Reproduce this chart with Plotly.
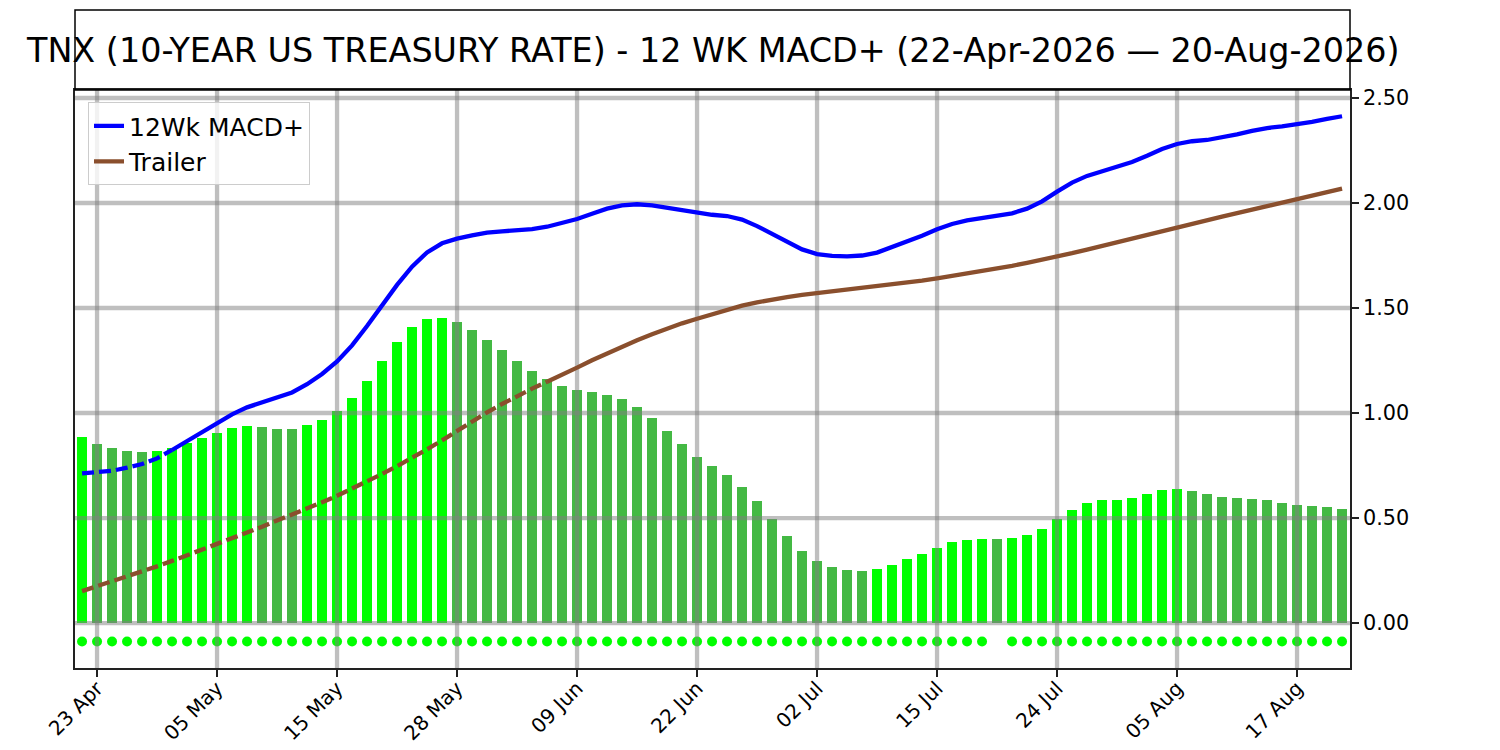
import plotly.graph_objects as go

# ---------------- data ----------------
tick_positions = [1, 9, 17, 25, 33, 41, 49, 57, 65, 73, 81]
tick_labels = ["23 Apr", "05 May", "15 May", "28 May", "09 Jun", "22 Jun",
               "02 Jul", "15 Jul", "24 Jul", "05 Aug", "17 Aug"]

hist = [0.884, 0.852, 0.833, 0.819, 0.814, 0.819, 0.832, 0.856, 0.881, 0.905,
        0.929, 0.938, 0.933, 0.925, 0.923, 0.943, 0.967, 1.008, 1.071, 1.152,
        1.248, 1.338, 1.410, 1.448, 1.453, 1.433, 1.395, 1.348, 1.300, 1.248,
        1.200, 1.162, 1.129, 1.110, 1.100, 1.086, 1.067, 1.029, 0.976, 0.914,
        0.852, 0.790, 0.748, 0.705, 0.648, 0.581, 0.495, 0.414, 0.343, 0.295,
        0.267, 0.252, 0.248, 0.257, 0.276, 0.305, 0.329, 0.357, 0.386, 0.395,
        0.400, 0.398, 0.405, 0.419, 0.448, 0.495, 0.538, 0.571, 0.586, 0.587,
        0.595, 0.614, 0.633, 0.638, 0.629, 0.614, 0.600, 0.595, 0.590, 0.586,
        0.571, 0.562, 0.557, 0.552, 0.543]

macd = [0.713, 0.718, 0.725, 0.740, 0.757, 0.784, 0.824, 0.867, 0.910, 0.954,
        0.994, 1.027, 1.051, 1.071, 1.098, 1.137, 1.186, 1.246, 1.322, 1.414,
        1.514, 1.610, 1.697, 1.765, 1.808, 1.830, 1.846, 1.859, 1.865, 1.870,
        1.876, 1.887, 1.903, 1.924, 1.949, 1.973, 1.989, 1.994, 1.989, 1.978,
        1.963, 1.951, 1.944, 1.938, 1.921, 1.890, 1.852, 1.813, 1.779, 1.757,
        1.748, 1.746, 1.750, 1.764, 1.789, 1.816, 1.844, 1.875, 1.900, 1.917,
        1.929, 1.940, 1.951, 1.973, 2.008, 2.054, 2.097, 2.129, 2.152, 2.171,
        2.195, 2.225, 2.257, 2.281, 2.294, 2.300, 2.311, 2.327, 2.343, 2.357,
        2.365, 2.373, 2.386, 2.400, 2.413]

trailer = [0.152, 0.175, 0.198, 0.222, 0.246, 0.270, 0.296, 0.322, 0.349, 0.376,
           0.403, 0.431, 0.459, 0.487, 0.516, 0.545, 0.575, 0.606, 0.639, 0.674,
           0.710, 0.747, 0.786, 0.827, 0.870, 0.916, 0.960, 1.003, 1.043, 1.081,
           1.116, 1.149, 1.181, 1.216, 1.251, 1.284, 1.316, 1.346, 1.375, 1.402,
           1.427, 1.449, 1.471, 1.492, 1.511, 1.527, 1.541, 1.552, 1.562, 1.570,
           1.578, 1.586, 1.594, 1.602, 1.610, 1.619, 1.630, 1.641, 1.652, 1.664,
           1.676, 1.688, 1.701, 1.715, 1.729, 1.744, 1.761, 1.778, 1.796, 1.813,
           1.831, 1.849, 1.866, 1.884, 1.901, 1.918, 1.935, 1.952, 1.969, 1.986,
           2.004, 2.021, 2.037, 2.053, 2.068]

signal = [1] * 61 + [0] + [1] * 23
SIGNAL_Y = -0.088

y_ticks = [0.0, 0.5, 1.0, 1.5, 2.0, 2.5]

# ---------------- styling ----------------
FONT = "DejaVu Sans"
BRIGHT = "#00FF00"
DARK = "#44B944"
BLUE = "#0000FF"
BROWN = "#8A4F2D"
GRID = "rgba(128,128,128,0.5)"
XR = [-0.47, 84.53]
YR = [-0.214, 2.538]
BLUE_DASH_END = 6
BROWN_DASH_END = 31
LW = 4.3
GW = 4.3
TICK_FS = 20.8

x = list(range(len(hist)))
bar_colors = [BRIGHT if i == 0 or hist[i] >= hist[i - 1] else DARK for i in x]

fig = go.Figure()

fig.add_trace(go.Bar(x=x, y=hist, width=0.7, marker=dict(color=bar_colors, line=dict(width=0)),
                     showlegend=False, hoverinfo="skip"))

fig.add_trace(go.Scatter(x=[i for i in x if signal[i]], y=[SIGNAL_Y for i in x if signal[i]],
                         mode="markers", marker=dict(color=BRIGHT, size=10),
                         showlegend=False, hoverinfo="skip"))

# grid lines (matplotlib draws them above bars but below lines)
gx, gy = [], []
for t in tick_positions:
    gx += [t, t, None]
    gy += [YR[0], YR[1], None]
fig.add_trace(go.Scatter(x=gx, y=gy, mode="lines", line=dict(color=GRID, width=GW),
                         showlegend=False, hoverinfo="skip"))
hx, hy = [], []
for t in y_ticks:
    hx += [XR[0], XR[1], None]
    hy += [t, t, None]
fig.add_trace(go.Scatter(x=hx, y=hy, mode="lines", line=dict(color=GRID, width=GW),
                         showlegend=False, hoverinfo="skip"))

# blue line: dashed start then solid
fig.add_trace(go.Scatter(x=x[:BLUE_DASH_END + 1], y=macd[:BLUE_DASH_END + 1], mode="lines",
                         line=dict(color=BLUE, width=LW, dash="12px,5px"),
                         showlegend=False, hoverinfo="skip"))
fig.add_trace(go.Scatter(x=x[BLUE_DASH_END:], y=macd[BLUE_DASH_END:], mode="lines",
                         line=dict(color=BLUE, width=LW), name="12Wk MACD+"))
# brown line
fig.add_trace(go.Scatter(x=x[:BROWN_DASH_END + 1], y=trailer[:BROWN_DASH_END + 1], mode="lines",
                         line=dict(color=BROWN, width=LW, dash="12px,5px"),
                         showlegend=False, hoverinfo="skip"))
fig.add_trace(go.Scatter(x=x[BROWN_DASH_END:], y=trailer[BROWN_DASH_END:], mode="lines",
                         line=dict(color=BROWN, width=LW), name="Trailer"))

PLOT_H = 750 - 90 - 82
fig.update_layout(
    width=1500, height=750,
    margin=dict(l=75, r=150, t=90, b=82, pad=0),
    paper_bgcolor="white", plot_bgcolor="white",
    font=dict(family=FONT, color="black"),
    bargap=0,
    showlegend=True,
    legend=dict(x=0.0102, y=0.979, xanchor="left", yanchor="top",
                bgcolor="rgba(255,255,255,0.8)", bordercolor="#cccccc", borderwidth=1,
                font=dict(size=25, family=FONT), itemwidth=30, tracegroupgap=0),
    shapes=[dict(type="rect", xref="paper", yref="paper", x0=0, x1=1, y0=1, y1=1 + 80 / PLOT_H,
                 line=dict(color="black", width=1.5), fillcolor="rgba(0,0,0,0)")],
    annotations=[dict(text="TNX (10-YEAR US TREASURY RATE) - 12 WK MACD+ (22-Apr-2026 \u2014 20-Aug-2026)",
                      xref="paper", yref="paper", x=0.5, y=1 + 40 / PLOT_H,
                      xanchor="center", yanchor="middle", showarrow=False,
                      font=dict(size=33.4, family=FONT, color="black"))],
)

fig.update_xaxes(range=XR, tickmode="array", tickvals=tick_positions, ticktext=tick_labels,
                 tickangle=-45, ticks="outside", ticklen=7, tickwidth=1.5, tickcolor="#222",
                 showgrid=False, zeroline=False, showline=True, linecolor="#222", linewidth=1.5,
                 mirror=True, automargin=False, ticklabelstandoff=-8,
                 tickfont=dict(size=20, family=FONT, color="black"))
fig.update_yaxes(range=YR, side="right", tickmode="array", tickvals=y_ticks, tickformat=".2f",
                 ticks="outside", ticklen=7, tickwidth=1.5, tickcolor="#222",
                 showgrid=False, zeroline=False, showline=True, linecolor="#222", linewidth=1.5,
                 mirror=True, automargin=False,
                 tickfont=dict(size=TICK_FS, family=FONT, color="black"))

fig.write_html("out.html", config={"displayModeBar": False},
               post_script="document.body.style.margin='0px';document.body.style.overflow='hidden';")
